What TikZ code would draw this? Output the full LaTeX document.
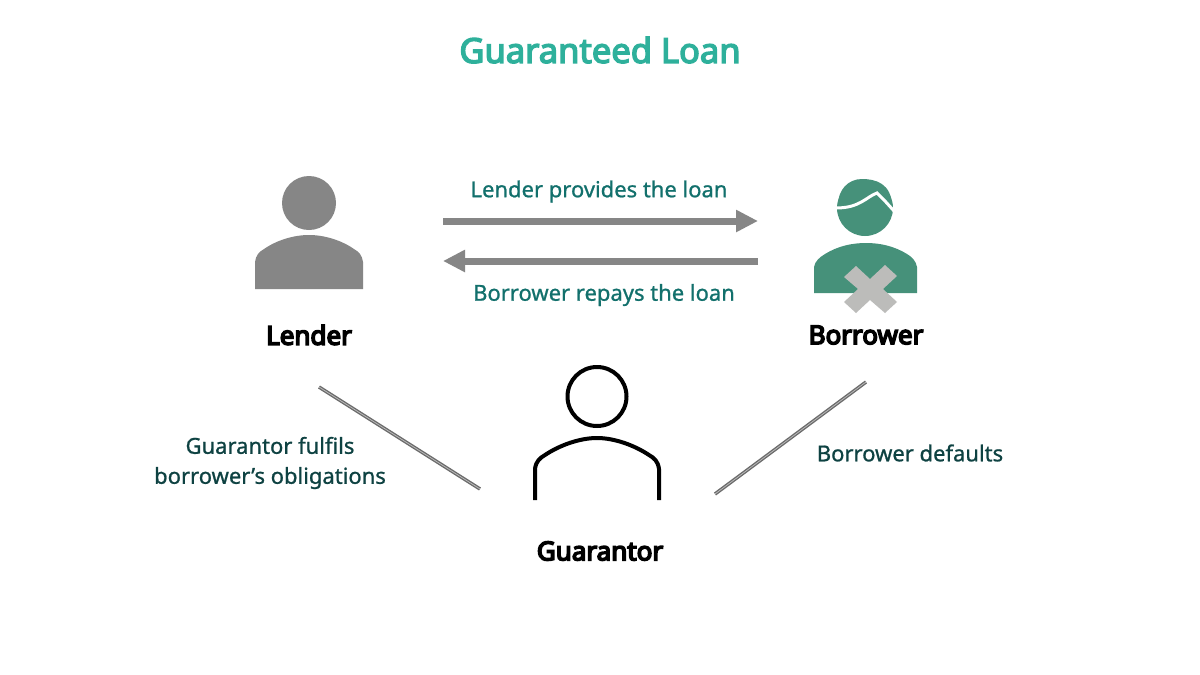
\documentclass[tikz,border=0pt]{standalone}
\usepackage{fontspec}
\setmainfont{Noto Sans}
\newfontfamily\medfont[FakeBold=0.9]{Noto Sans}
\newfontfamily\heavyfont[FakeBold=6]{Noto Sans}
\newfontfamily\titlefont[FakeBold=4]{Noto Sans}
\usetikzlibrary{arrows.meta}
\definecolor{titleteal}{RGB}{46,176,155}
\definecolor{loanteal}{RGB}{18,112,108}
\definecolor{noteteal}{RGB}{14,66,66}
\definecolor{borrowgreen}{RGB}{70,145,122}
\definecolor{crossgray}{RGB}{188,188,186}
\definecolor{lendgray}{RGB}{134,134,134}
\tikzset{
  roletext/.style={font=\heavyfont\fontsize{26}{30}\selectfont, text=black},
  loantext/.style={font=\medfont\fontsize{22}{25}\selectfont, text=loanteal},
  notetext/.style={font=\medfont\fontsize{22}{30}\selectfont, text=noteteal, align=center},
  loanarrow/.style={draw=lendgray, line width=7pt, -{Triangle[length=22pt,width=21pt]}},
  tieline/.style={draw=gray!85!black, line width=1.4pt, double=white!50!gray, double distance=0.7pt}
}
\begin{document}
\begin{tikzpicture}[x=1pt,y=-1pt]
  \useasboundingbox (0,0) rectangle (1200,675);
  \fill[white] (0,0) rectangle (1200,675);

  \node[font=\titlefont\fontsize{34.5}{38}\selectfont, text=titleteal] (title) at (600,50) {Guaranteed Loan};

  % lender
  \fill[lendgray] (309,203) circle (27);
  \fill[lendgray] (255,289) -- (255,262) .. controls (256,255) and (259,252) .. (264,249)
    .. controls (277,240) and (294,235) .. (309,235) .. controls (324,235) and (341,240) .. (354,249)
    .. controls (359,252) and (362,255) .. (363,262) -- (363,289) -- cycle;
  \node[roletext] (lender) at (309,335) {Lender};

  % borrower
  \fill[borrowgreen] (865,208) circle (28);
  \fill[borrowgreen] (838,205) .. controls (838,190) and (848,179) .. (862,179)
    .. controls (875,179) and (892,183) .. (892,207) -- cycle;
  \draw[white, line width=3pt] (836,208) .. controls (860,208) and (866,197) .. (877,193)
    -- (885,201) -- (894,211);
  \fill[borrowgreen] (814,293) -- (814,267) .. controls (815,261) and (820,257) .. (825,254)
    .. controls (838,246) and (852,243) .. (866,243) .. controls (880,243) and (894,246) .. (907,254)
    .. controls (912,257) and (916,261) .. (917,267) -- (917,293) -- cycle;
  \fill[crossgray] (844,277) -- (856,266) -- (870,279) -- (885,265) -- (897,276) -- (883,289)
    -- (897,302) -- (885,313) -- (870,300) -- (856,313) -- (844,302) -- (858,289) -- cycle;
  \node[roletext] (borrower) at (866,335) {Borrower};

  % guarantor
  \draw[line width=4pt] (597,396.5) circle (29.5);
  \draw[line width=4pt] (535,500) -- (535,469) .. controls (536,461) and (540,458) .. (545,455)
    .. controls (560,445) and (580,438) .. (597,438) .. controls (614,438) and (634,445) .. (649,455)
    .. controls (654,458) and (658,461) .. (659,469) -- (659,500);
  \node[roletext] (guarantor) at (600,551) {Guarantor};

  % flows
  \coordinate (provA) at (443,221);
  \coordinate (provB) at (758,221);
  \coordinate (repA) at (758,261);
  \coordinate (repB) at (443,261);
  \draw[loanarrow] (provA) -- (provB);
  \draw[loanarrow] (repA) -- (repB);
  \node[loantext] (provides) at (599,191.5) {Lender provides the loan};
  \node[loantext] (repays) at (604,295) {Borrower repays the loan};

  \coordinate (tieL) at (319,387);
  \coordinate (tieG) at (480,489);
  \coordinate (tieB) at (866,382);
  \coordinate (tieH) at (715,494);
  \draw[tieline] (tieL) -- (tieG);
  \draw[tieline] (tieB) -- (tieH);
  \node[notetext] (fulfils) at (270,463) {Guarantor fulfils\\borrower’s obligations};
  \node[notetext] (defaults) at (910,453) {Borrower defaults};
\end{tikzpicture}
\end{document}
